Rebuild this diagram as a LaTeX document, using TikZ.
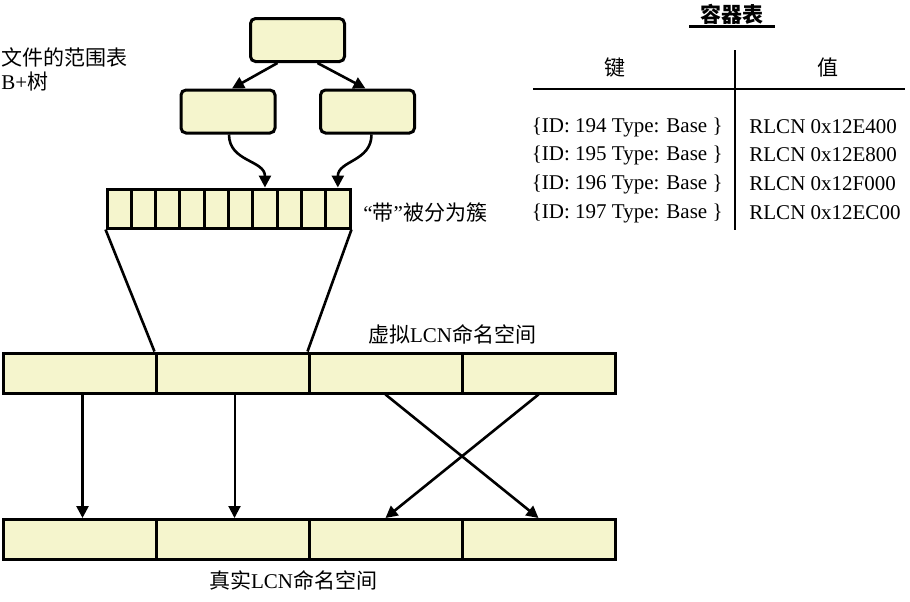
\documentclass[tikz,border=0pt]{standalone}
\usepackage{fontspec}
\setmainfont{Liberation Serif}
\newfontfamily\cjk{Noto Sans CJK SC}
\usetikzlibrary{arrows.meta,calc}
\definecolor{cellfill}{RGB}{245,245,205}
\begin{document}
\begin{tikzpicture}[x=0.5pt,y=-0.5pt,
  font=\fontsize{10.5}{12.6}\selectfont,
  treebox/.style={draw,line width=1.5pt,fill=cellfill,rounded corners=2.5pt,minimum width=47pt,minimum height=21.5pt,inner sep=0pt},
  bandcell/.style={draw,line width=1.5pt,fill=cellfill,minimum width=12.15pt,minimum height=19.5pt,inner sep=0pt},
  rowcell/.style={draw,line width=1.5pt,fill=cellfill,minimum width=76.5pt,minimum height=20pt,inner sep=0pt},
  arr/.style={line width=1.3pt,-{Triangle[length=6pt,width=6pt]}},
  edge/.style={line width=1.3pt},
  tline/.style={line width=1.2pt},
  lbl/.style={inner sep=0pt}]
\useasboundingbox (0,0) rectangle (910,601);

% labels left
\node[lbl,anchor=west] (lt1) at (1,57) {\cjk 文件的范围表};
\node[lbl,anchor=west] (lt2) at (1,82) {B+{\cjk 树}};

% tree
\node[treebox] (root) at (297.5,40) {};
\node[treebox] (lch) at (228,111.5) {};
\node[treebox] (rch) at (367.5,111.5) {};
\draw[arr] ([xshift=-10pt]root.south) -- ([xshift=2pt]lch.north);
\draw[arr] ([xshift=10pt]root.south) -- ([xshift=-1pt]rch.north);

% band
\foreach \i in {1,...,10}
  \node[bandcell] (c\i) at ({107+24.3*(\i-0.5)},208.5) {};
\node[lbl,anchor=west] (bandlbl) at (363,212) {“{\cjk 带}”{\cjk 被分为簇}};

\draw[arr] ([xshift=0.5pt]lch.south) to[out=-90,in=90,looseness=1.1] (c7.north);
\draw[arr] ([xshift=2pt]rch.south) to[out=-90,in=90,looseness=1.1] (c10.north);

% rows
\foreach \i in {1,...,4} {
  \node[rowcell] (v\i) at ({3+153*(\i-0.5)},373) {};
  \node[rowcell] (r\i) at ({3+153*(\i-0.5)},539.5) {};
}
\node[lbl] (vlbl) at (452,334) {{\cjk 虚拟}LCN{\cjk 命名空间}};
\node[lbl] (rlbl) at (293,580) {{\cjk 真实}LCN{\cjk 命名空间}};

\draw[edge] (c1.south west) -- (v2.north west);
\draw[edge] (c10.south east) -- (v3.north west);

\draw[arr] ([xshift=1.5pt]v1.south) -- ([xshift=1.5pt]r1.north);
\draw[arr,line width=1pt] ([xshift=1pt]v2.south) -- ([xshift=1pt]r2.north);
\draw[arr] (v3.south) -- (r4.north);
\draw[arr] (v4.south) -- (r3.north);

% table
\node[lbl,inner xsep=5.5pt,inner ysep=1pt] (ttl) at (732,14) {\cjk\bfseries 容器表};
\draw[tline] (ttl.south west) -- (ttl.south east);
\node[lbl] (hkey) at (615,68) {\cjk 键};
\node[lbl] (hval) at (828,68) {\cjk 值};
\coordinate (hl) at (533,89);
\coordinate (hr) at (905,89);
\coordinate (vt) at (735,50);
\coordinate (vb) at (735,230);
\draw[tline] (hl) -- (hr);
\draw[tline] (vt) -- (vb);
\node[lbl,anchor=east] (k1) at (723,127) {\{ID: 194 Type: Base \}};
\node[lbl,anchor=east] (k2) at (723,155) {\{ID: 195 Type: Base \}};
\node[lbl,anchor=east] (k3) at (723,184) {\{ID: 196 Type: Base \}};
\node[lbl,anchor=east] (k4) at (723,213) {\{ID: 197 Type: Base \}};
\node[lbl,anchor=west] (w1) at (749,127) {RLCN 0x12E400};
\node[lbl,anchor=west] (w2) at (749,155) {RLCN 0x12E800};
\node[lbl,anchor=west] (w3) at (749,184) {RLCN 0x12F000};
\node[lbl,anchor=west] (w4) at (749,213) {RLCN 0x12EC00};
\end{tikzpicture}
\end{document}
